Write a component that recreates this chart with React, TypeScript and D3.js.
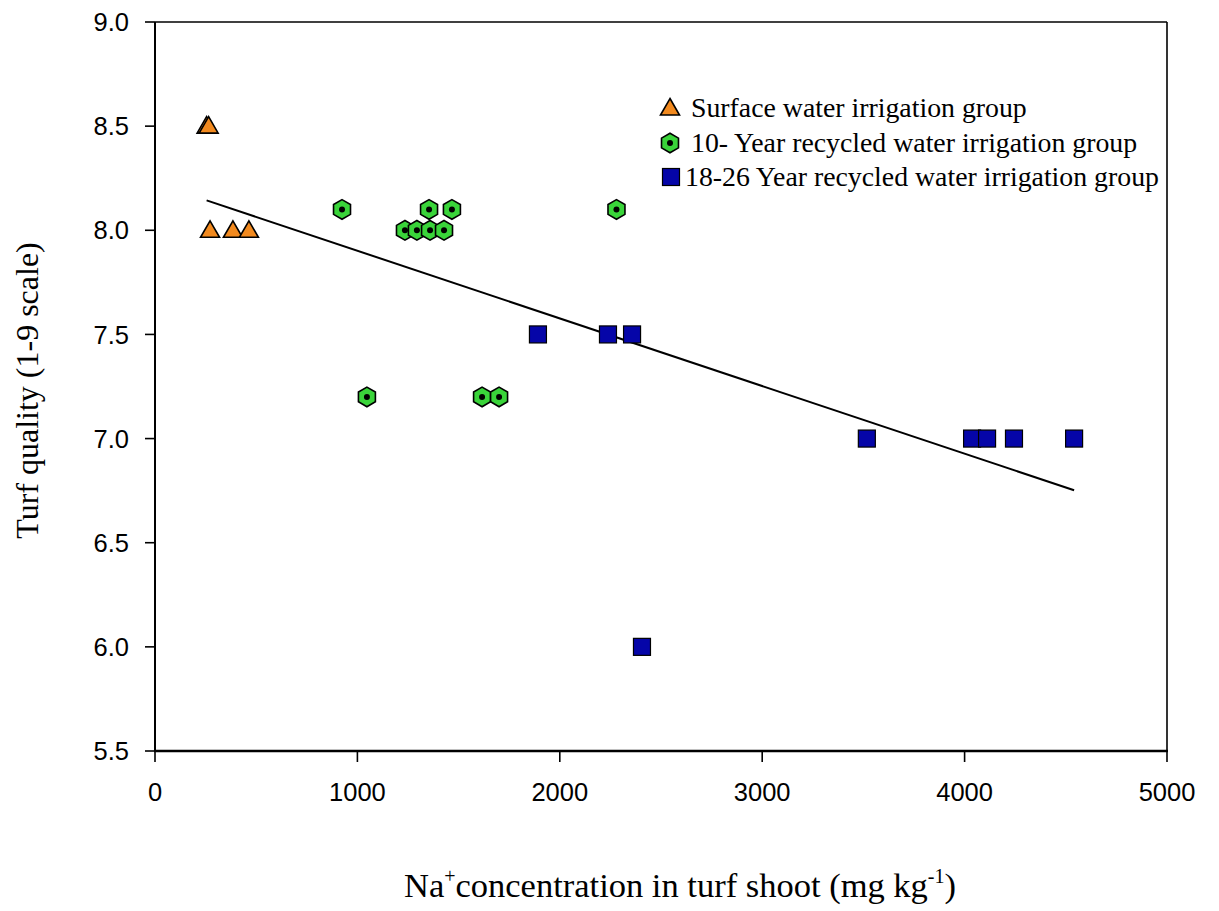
import React from "react";
import * as d3 from "d3";

const surfaceX = [255, 265, 272, 385, 464];
const surfaceY = [8.5, 8.5, 8.0, 8.0, 8.0];

const tenYearX = [924, 1354, 1467, 2280, 1235, 1294, 1359, 1428, 1047, 1616, 1700];
const tenYearY = [8.1, 8.1, 8.1, 8.1, 8.0, 8.0, 8.0, 8.0, 7.2, 7.2, 7.2];

const longX = [1892, 2238, 2357, 3517, 4037, 4111, 4244, 4541, 2406];
const longY = [7.5, 7.5, 7.5, 7.0, 7.0, 7.0, 7.0, 7.0, 6.0];

const xTicks = [0, 1000, 2000, 3000, 4000, 5000];
const yTicks = [5.5, 6.0, 6.5, 7.0, 7.5, 8.0, 8.5, 9.0];

const legendLabels = [
  "Surface water irrigation group",
  "10- Year recycled water irrigation group",
  "18-26 Year recycled water irrigation group",
];

const W = 1219;
const H = 911;
const L = 155, R = 1167, T = 22, B = 751;

const ORANGE = "#f28a1f";
const GREEN = "#3ad43a";
const BLUE = "#0505a8";

function Triangle({ x, y }: { x: number; y: number }) {
  const p = `${x},${y - 9.5} ${x + 9.5},${y + 7} ${x - 9.5},${y + 7}`;
  return <polygon points={p} fill={ORANGE} stroke="#000" strokeWidth={1.6} strokeLinejoin="miter" />;
}

function Hexagon({ x, y }: { x: number; y: number }) {
  const r = 9.8;
  const pts = d3.range(6).map((i) => {
    const a = (Math.PI / 3) * i - Math.PI / 2;
    return `${x + r * Math.cos(a)},${y + r * Math.sin(a)}`;
  });
  return (
    <g>
      <polygon points={pts.join(" ")} fill={GREEN} stroke="#000" strokeWidth={1.6} />
      <circle cx={x} cy={y} r={3} fill="#000" />
    </g>
  );
}

function Square({ x, y }: { x: number; y: number }) {
  return <rect x={x - 8.5} y={y - 8.5} width={17} height={17} fill={BLUE} stroke="#000" strokeWidth={1.2} />;
}

export default function App() {
  const xs = d3.scaleLinear().domain([0, 5000]).range([L, R]);
  const ys = d3.scaleLinear().domain([5.5, 9.0]).range([B, T]);

  const allX = [...surfaceX, ...tenYearX, ...longX];
  const allY = [...surfaceY, ...tenYearY, ...longY];
  const mx = d3.mean(allX) as number;
  const my = d3.mean(allY) as number;
  let sxy = 0, sxx = 0;
  allX.forEach((x, i) => {
    sxy += (x - mx) * (allY[i] - my);
    sxx += (x - mx) * (x - mx);
  });
  const slope = sxy / sxx;
  const icpt = my - slope * mx;
  const x0 = d3.min(allX) as number;
  const x1 = d3.max(allX) as number;
  const line = d3.line<number>().x((d) => xs(d)).y((d) => ys(icpt + slope * d));

  const serif = "'Liberation Serif', 'Times New Roman', serif";
  const sans = "'Liberation Sans', Arial, sans-serif";

  const legX = 671;
  const legTextX = 689;
  const legY = [108, 143, 177];

  return (
    <svg width={W} height={H} style={{ position: "absolute", left: 0, top: 0, background: "#fff" }}>
      <rect x={0} y={0} width={W} height={H} fill="#fff" />
      {/* frame */}
      <line x1={L} y1={T} x2={R} y2={T} stroke="#000" strokeWidth={1.6} />
      <line x1={R} y1={T} x2={R} y2={B} stroke="#000" strokeWidth={1.6} />
      <line x1={L} y1={T} x2={L} y2={B} stroke="#000" strokeWidth={2} />
      <line x1={L - 1} y1={B} x2={R + 1} y2={B} stroke="#000" strokeWidth={2.6} />
      {/* y ticks */}
      {yTicks.map((t) => (
        <g key={"y" + t}>
          <line x1={L - 10} y1={ys(t)} x2={L} y2={ys(t)} stroke="#000" strokeWidth={1.6} />
          <text x={L - 26} y={ys(t)} dy="0.36em" textAnchor="end" fontFamily={sans} fontSize={25.5}>
            {t.toFixed(1)}
          </text>
        </g>
      ))}
      {/* x ticks */}
      {xTicks.map((t) => (
        <g key={"x" + t}>
          <line x1={xs(t)} y1={B} x2={xs(t)} y2={B + 11} stroke="#000" strokeWidth={1.6} />
          <text x={xs(t)} y={B + 41} dy="0.36em" textAnchor="middle" fontFamily={sans} fontSize={25.5}>
            {t}
          </text>
        </g>
      ))}
      {/* regression line */}
      <path d={line([x0, x1]) as string} fill="none" stroke="#000" strokeWidth={2} />
      {/* points */}
      {longX.map((x, i) => (
        <Square key={"s" + i} x={xs(x)} y={ys(longY[i])} />
      ))}
      {tenYearX.map((x, i) => (
        <Hexagon key={"h" + i} x={xs(x)} y={ys(tenYearY[i])} />
      ))}
      {surfaceX.map((x, i) => (
        <Triangle key={"t" + i} x={xs(x)} y={ys(surfaceY[i])} />
      ))}
      {/* legend */}
      <Triangle x={legX - 1} y={legY[0]} />
      <Hexagon x={legX - 1} y={legY[1]} />
      <Square x={legX} y={legY[2]} />
      {legendLabels.map((s, i) => (
        <text key={"l" + i} x={i === 2 ? legTextX - 4 : legTextX + 2} y={legY[i]} dy="0.33em" fontFamily={serif} fontSize={27.8}>
          {s}
        </text>
      ))}
      {/* axis titles */}
      <text x={680} y={897} textAnchor="middle" fontFamily={serif} fontSize={34.5}>
        Na
        <tspan dy={-14} fontSize={20}>+</tspan>
        <tspan dy={14}>concentration in turf shoot (mg kg</tspan>
        <tspan dy={-14} fontSize={20}>-1</tspan>
        <tspan dy={14}>)</tspan>
      </text>
      <text
        transform={`translate(38, ${(T + B) / 2 + 4}) rotate(-90)`}
        textAnchor="middle"
        fontFamily={serif}
        fontSize={32}
      >
        Turf quality (1-9 scale)
      </text>
    </svg>
  );
}
